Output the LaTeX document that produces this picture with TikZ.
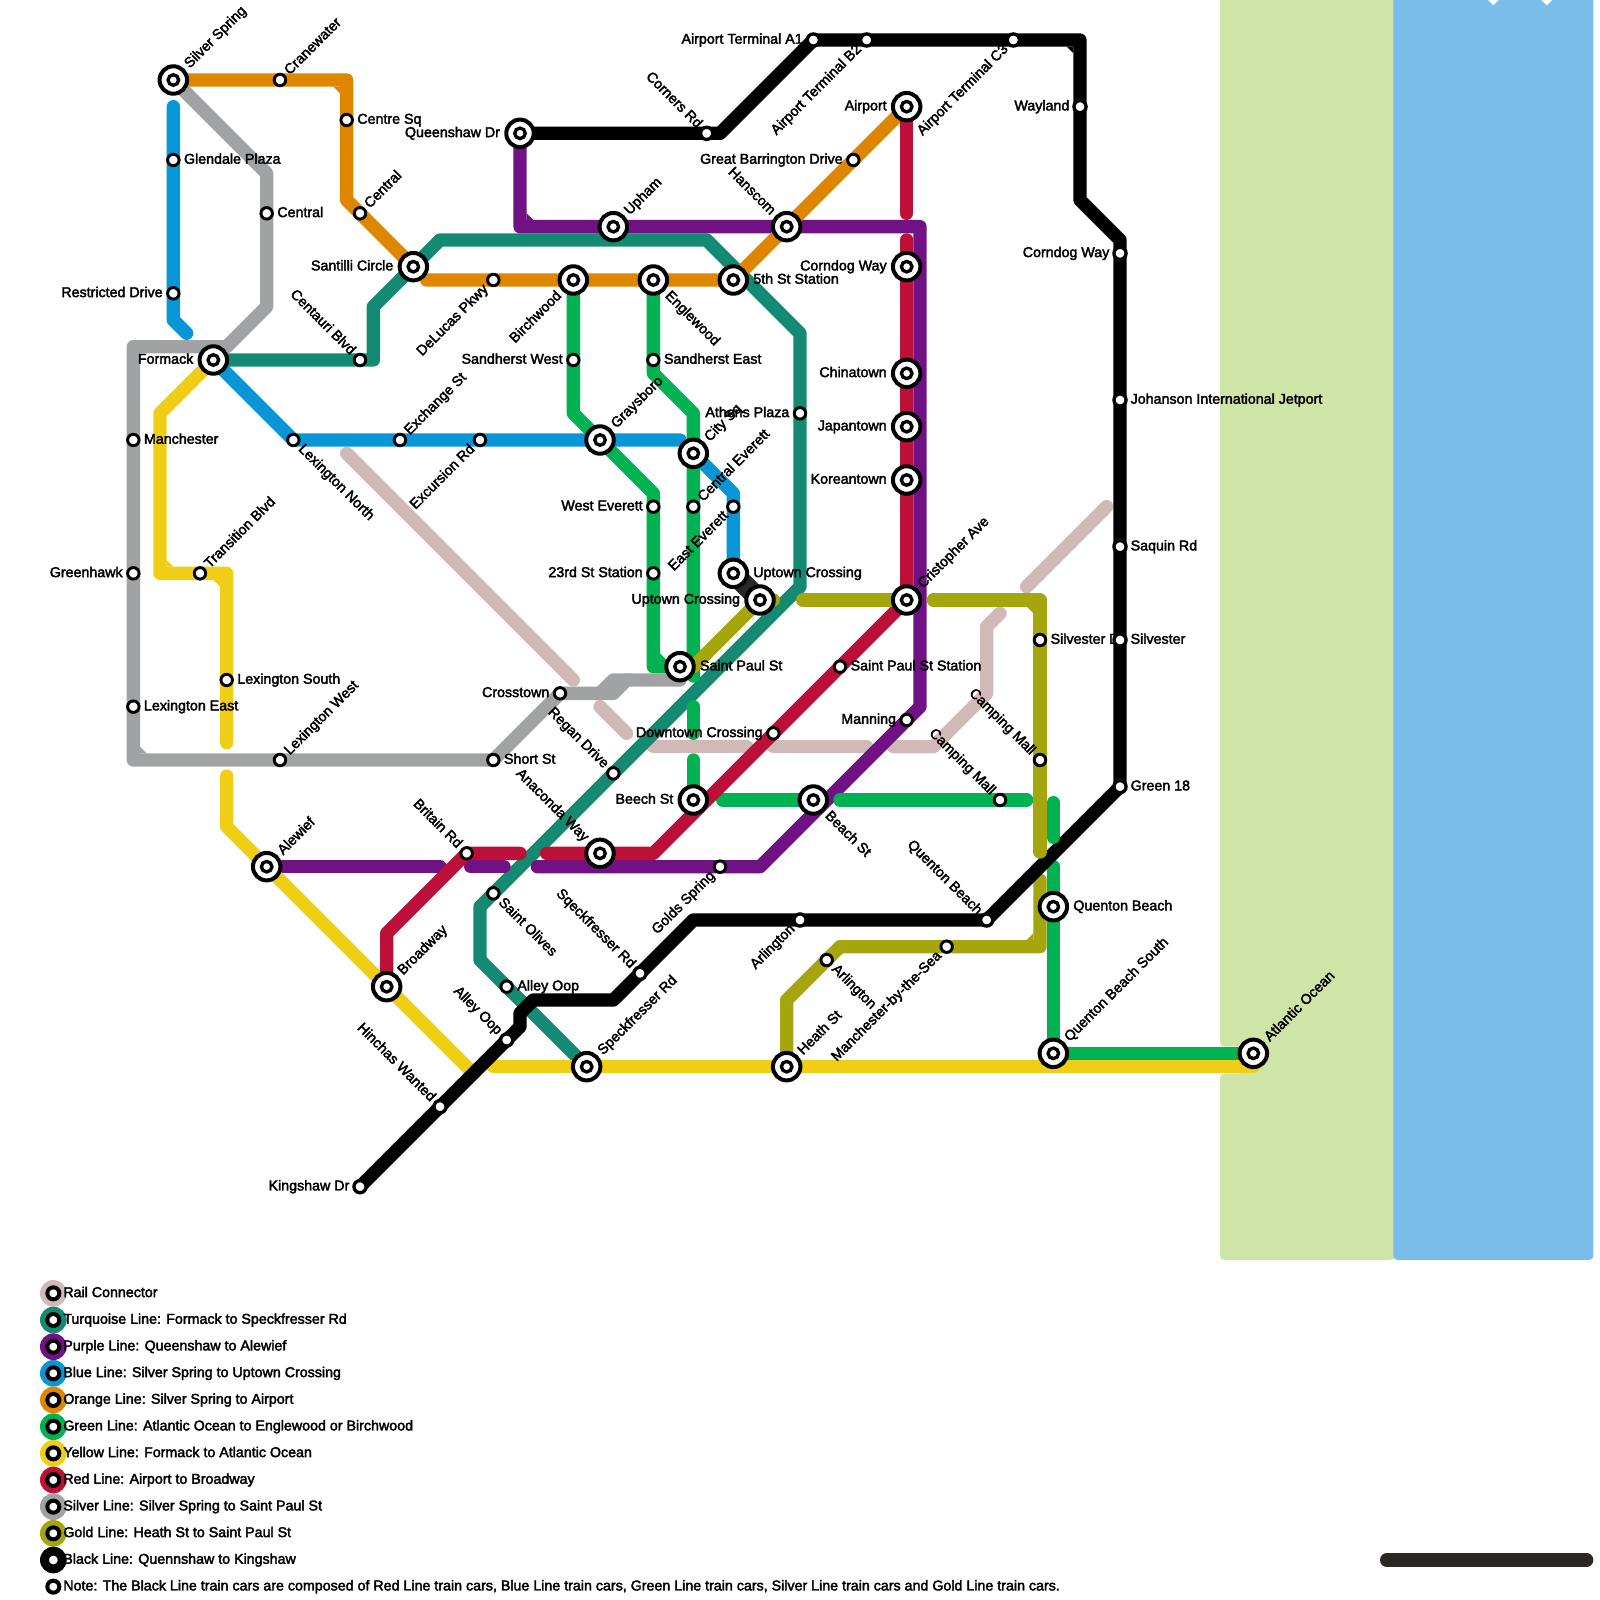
\documentclass[tikz,border=0pt]{standalone}
\usepackage{fontspec}
\setmainfont{Liberation Sans}[FakeBold=2.5]
\definecolor{cOrange}{HTML}{DF8600}
\definecolor{cTurq}{HTML}{158A73}
\definecolor{cPurple}{HTML}{701283}
\definecolor{cBlue}{HTML}{0896D7}
\definecolor{cGreen}{HTML}{00B251}
\definecolor{cYellow}{HTML}{F0CE15}
\definecolor{cRed}{HTML}{BD1038}
\definecolor{cSilver}{HTML}{A1A2A3}
\definecolor{cGold}{HTML}{A5A50D}
\definecolor{cRail}{HTML}{D2B9B9}
\definecolor{cLand}{HTML}{CFE4A7}
\definecolor{cWater}{HTML}{79BDE9}
\definecolor{cDark}{HTML}{2A2725}
\tikzset{
 every node/.style={font=\fontsize{7.6pt}{8.5pt}\selectfont},
 tline/.style={line width=.25cm,line cap=round,line join=round},
 lbl/.style={inner sep=0pt,outer sep=0pt,text height=4pt,text depth=0pt,text=black},
 nR/.style={xshift=.2cm,anchor=west},
 nL/.style={xshift=-.2cm,anchor=east},
 nUR/.style={xshift=.135cm,yshift=.135cm,rotate=45,anchor=west},
 nDR/.style={xshift=.135cm,yshift=-.135cm,rotate=-45,anchor=west},
 nUL/.style={xshift=-.135cm,yshift=.135cm,rotate=-45,anchor=east},
 nDL/.style={xshift=-.135cm,yshift=-.135cm,rotate=45,anchor=east},
 bR/.style={nR},bL/.style={nL},bUR/.style={nUR},bDR/.style={nDR},bUL/.style={nUL},bDL/.style={nDL},
 iR/.style={xshift=.375cm,anchor=west},
 iL/.style={xshift=-.375cm,anchor=east},
 iUR/.style={xshift=.26cm,yshift=.26cm,rotate=45,anchor=west},
 iDR/.style={xshift=.26cm,yshift=-.26cm,rotate=-45,anchor=west},
 iUL/.style={xshift=-.26cm,yshift=.26cm,rotate=-45,anchor=east},
 iDL/.style={xshift=-.26cm,yshift=-.26cm,rotate=45,anchor=east},
 dotn/.style={circle,draw=black,fill=white,inner sep=0pt,outer sep=0pt,minimum size=.215cm,line width=.055cm},
 dotb/.style={circle,draw=black,fill=white,inner sep=0pt,outer sep=0pt,minimum size=.2275cm,line width=.0625cm},
 doti/.style={circle,draw=black,fill=white,inner sep=0pt,outer sep=0pt,minimum size=.515cm,line width=.075cm},
 dotc/.style={circle,draw=black,fill=white,inner sep=0pt,outer sep=0pt,minimum size=.1975cm,line width=.0625cm},
 dotl/.style={circle,draw=black,fill=white,inner sep=0pt,outer sep=0pt,minimum size=.225cm,line width=.075cm},
 legc/.style={circle,inner sep=0pt,outer sep=0pt,minimum size=.5cm},
 legt/.style={inner sep=0pt,outer sep=0pt,anchor=west,text height=4pt,text depth=0pt},
}
\newcommand\StaLabel[4]{\node[lbl,#1#2] (#3-l) at (#3) {#4};}
\newcommand\StaDot[4]{\StaDotAux{#1}{#3}}
\newcommand\StaDotAux[2]{%
 \ifx i#1\node[doti] (#2-s) at (#2) {};\node[dotc] (#2-c) at (#2) {};\else
 \ifx b#1\node[dotb] (#2-s) at (#2) {};\else
 \node[dotn] (#2-s) at (#2) {};\fi\fi}
\newcommand\stationlist{%
\Sta{i}{UR}{SilverSpring}{Silver Spring}
\Sta{n}{UR}{Cranewater}{Cranewater}
\Sta{n}{R}{CentreSq}{Centre Sq}
\Sta{n}{UR}{CentralO}{Central}
\Sta{i}{L}{Santilli}{Santilli Circle}
\Sta{n}{R}{Glendale}{Glendale Plaza}
\Sta{n}{L}{Restricted}{Restricted Drive}
\Sta{n}{R}{CentralS}{Central}
\Sta{i}{L}{Formack}{Formack}
\Sta{n}{R}{Manchester}{Manchester}
\Sta{n}{L}{Greenhawk}{Greenhawk}
\Sta{n}{R}{LexEast}{Lexington East}
\Sta{n}{UR}{Transition}{Transition Blvd}
\Sta{n}{R}{LexSouth}{Lexington South}
\Sta{n}{UR}{LexWest}{Lexington West}
\Sta{n}{R}{ShortSt}{Short St}
\Sta{n}{L}{Crosstown}{Crosstown}
\Sta{n}{DR}{LexNorth}{Lexington North}
\Sta{n}{UR}{Exchange}{Exchange St}
\Sta{n}{DL}{Excursion}{Excursion Rd}
\Sta{i}{UR}{Graysboro}{Graysboro}
\Sta{i}{UR}{CitySq}{City Sq}
\Sta{n}{UL}{Centauri}{Centauri Blvd}
\Sta{n}{DL}{DeLucas}{DeLucas Pkwy}
\Sta{i}{DL}{Birchwood}{Birchwood}
\Sta{i}{DR}{Englewood}{Englewood}
\Sta{i}{R}{FifthSt}{5th St Station}
\Sta{i}{UR}{Upham}{Upham}
\Sta{i}{UL}{Hanscom}{Hanscom}
\Sta{n}{L}{Barrington}{Great Barrington Drive}
\Sta{i}{L}{Airport}{Airport}
\Sta{b}{DL}{TermC}{Airport Terminal C3}
\Sta{b}{DL}{TermB}{Airport Terminal B2}
\Sta{b}{L}{TermA}{Airport Terminal A1}
\Sta{b}{UL}{Corners}{Corners Rd}
\Sta{i}{L}{Queenshaw}{Queenshaw Dr}
\Sta{i}{L}{CorndogR}{Corndog Way}
\Sta{i}{L}{Chinatown}{Chinatown}
\Sta{i}{L}{Japantown}{Japantown}
\Sta{i}{L}{Koreantown}{Koreantown}
\Sta{i}{UR}{Cristopher}{Cristopher Ave}
\Sta{n}{L}{SandW}{Sandherst West}
\Sta{n}{R}{SandE}{Sandherst East}
\Sta{n}{L}{WestEv}{West Everett}
\Sta{n}{L}{TwentyThird}{23rd St Station}
\Sta{n}{UR}{CentralEv}{Central Everett}
\Sta{n}{DL}{EastEv}{East Everett}
\Sta{n}{L}{Athens}{Athens Plaza}
\Sta{i}{R}{UptownB}{Uptown Crossing}
\Sta{i}{L}{UptownG}{Uptown Crossing}
\Sta{i}{R}{SaintPaul}{Saint Paul St}
\Sta{n}{R}{SaintPaulSt}{Saint Paul St Station}
\Sta{n}{L}{Manning}{Manning}
\Sta{n}{L}{Downtown}{Downtown Crossing}
\Sta{n}{UL}{Regan}{Regan Drive}
\Sta{i}{L}{Beech}{Beech St}
\Sta{i}{DR}{Beach}{Beach St}
\Sta{i}{UL}{Anaconda}{Anaconda Way}
\Sta{n}{DL}{Golds}{Golds Spring}
\Sta{n}{UL}{Britain}{Britain Rd}
\Sta{i}{UR}{Alewief}{Alewief}
\Sta{n}{DR}{SaintOlives}{Saint Olives}
\Sta{i}{UR}{Broadway}{Broadway}
\Sta{n}{R}{AlleyT}{Alley Oop}
\Sta{b}{UL}{AlleyB}{Alley Oop}
\Sta{i}{UR}{Speckfresser}{Speckfresser Rd}
\Sta{b}{UL}{Sqeck}{Sqeckfresser Rd}
\Sta{b}{UL}{Hinchas}{Hinchas Wanted}
\Sta{b}{L}{Kingshaw}{Kingshaw Dr}
\Sta{i}{UR}{Heath}{Heath St}
\Sta{n}{DR}{ArlG}{Arlington}
\Sta{b}{DL}{ArlB}{Arlington}
\Sta{n}{DL}{ManSea}{Manchester-by-the-Sea}
\Sta{b}{UL}{QuentonB}{Quenton Beach}
\Sta{i}{R}{QuentonG}{Quenton Beach}
\Sta{i}{UR}{QuentonS}{Quenton Beach South}
\Sta{i}{UR}{Atlantic}{Atlantic Ocean}
\Sta{n}{UL}{CampA}{Camping Mall}
\Sta{n}{UL}{CampB}{Camping Mall}
\Sta{n}{R}{SilvD}{Silvester Dr}
\Sta{b}{R}{Silv}{Silvester}
\Sta{b}{R}{Green18}{Green 18}
\Sta{b}{R}{Saquin}{Saquin Rd}
\Sta{b}{R}{Johanson}{Johanson International Jetport}
\Sta{b}{L}{CorndogB}{Corndog Way}
\Sta{b}{L}{Wayland}{Wayland}
}
\begin{document}
\begin{tikzpicture}[x=.25cm,y=-.25cm]
\useasboundingbox (0,0) rectangle (120,120);
\clip (0,0) rectangle (120,120);
% station positions
\coordinate (SilverSpring) at (13,6);\coordinate (Cranewater) at (21,6);\coordinate (CentreSq) at (26,9);
\coordinate (CentralO) at (27,16);\coordinate (Santilli) at (31,20);\coordinate (Glendale) at (13,12);
\coordinate (Restricted) at (13,22);\coordinate (CentralS) at (20,16);\coordinate (Formack) at (16,27);
\coordinate (Manchester) at (10,33);\coordinate (Greenhawk) at (10,43);\coordinate (LexEast) at (10,53);
\coordinate (Transition) at (15,43);\coordinate (LexSouth) at (17,51);\coordinate (LexWest) at (21,57);
\coordinate (ShortSt) at (37,57);\coordinate (Crosstown) at (42,52);\coordinate (LexNorth) at (22,33);
\coordinate (Exchange) at (30,33);\coordinate (Excursion) at (36,33);\coordinate (Graysboro) at (45,33);
\coordinate (CitySq) at (52,34);\coordinate (Centauri) at (27,27);\coordinate (DeLucas) at (37,21);
\coordinate (Birchwood) at (43,21);\coordinate (Englewood) at (49,21);\coordinate (FifthSt) at (55,21);
\coordinate (Upham) at (46,17);\coordinate (Hanscom) at (59,17);\coordinate (Barrington) at (64,12);
\coordinate (Airport) at (68,8);\coordinate (TermC) at (76,3);\coordinate (TermB) at (65,3);
\coordinate (TermA) at (61,3);\coordinate (Corners) at (53,10);\coordinate (Queenshaw) at (39,10);
\coordinate (CorndogR) at (68,20);\coordinate (Chinatown) at (68,28);\coordinate (Japantown) at (68,32);
\coordinate (Koreantown) at (68,36);\coordinate (Cristopher) at (68,45);\coordinate (SandW) at (43,27);
\coordinate (SandE) at (49,27);\coordinate (WestEv) at (49,38);\coordinate (TwentyThird) at (49,43);
\coordinate (CentralEv) at (52,38);\coordinate (EastEv) at (55,38);\coordinate (Athens) at (60,31);
\coordinate (UptownB) at (55,43);\coordinate (UptownG) at (57,45);\coordinate (SaintPaul) at (51,50);
\coordinate (SaintPaulSt) at (63,50);\coordinate (Manning) at (68,54);\coordinate (Downtown) at (58,55);
\coordinate (Regan) at (46,58);\coordinate (Beech) at (52,60);\coordinate (Beach) at (61,60);
\coordinate (Anaconda) at (45,64);\coordinate (Golds) at (54,65);\coordinate (Britain) at (35,64);
\coordinate (Alewief) at (20,65);\coordinate (SaintOlives) at (37,67);\coordinate (Broadway) at (29,74);
\coordinate (AlleyT) at (38,74);\coordinate (AlleyB) at (38,78);\coordinate (Speckfresser) at (44,80);
\coordinate (Sqeck) at (48,73);\coordinate (Hinchas) at (33,83);\coordinate (Kingshaw) at (27,89);
\coordinate (Heath) at (59,80);\coordinate (ArlG) at (62,72);\coordinate (ArlB) at (60,69);
\coordinate (ManSea) at (71,71);\coordinate (QuentonB) at (74,69);\coordinate (QuentonG) at (79,68);
\coordinate (QuentonS) at (79,79);\coordinate (Atlantic) at (94,79);\coordinate (CampA) at (78,57);
\coordinate (CampB) at (75,60);\coordinate (SilvD) at (78,48);\coordinate (Silv) at (84,48);
\coordinate (Green18) at (84,59);\coordinate (Saquin) at (84,41);\coordinate (Johanson) at (84,30);
\coordinate (CorndogB) at (84,19);\coordinate (Wayland) at (81,8);
% land and water
\fill[cLand,rounded corners=.08cm] (91.5,-2) rectangle (104.6,78.5);
\fill[cLand,rounded corners=.08cm] (91.5,80.5) rectangle (104.6,94.5);
\fill[cLand] (93,78) rectangle (104.6,81);
\fill[cWater,rounded corners=.08cm] (104.5,-2) rectangle (119.5,94.5);
\fill[white] (112,-.4) -- (112.4,0) -- (112,.4) -- (111.6,0) -- cycle;
\fill[white] (116,-.4) -- (116.4,0) -- (116,.4) -- (115.6,0) -- cycle;
\draw[tline,cDark] (104,117) -- (119,117);
% rail connector
\draw[tline,cRail] (26,34) -- (43,51);
\draw[tline,cRail] (45,53) -- (47,55);
\draw[tline,cRail] (49,56) -- (56,56);
\draw[tline,cRail] (58,56) -- (65,56);
\draw[tline,cRail] (67,56) -- (70,56) -- (74,52) -- (74,47) -- (75,46);
\draw[tline,cRail] (77,44) -- (83,38);
% turquoise
\draw[tline,cTurq] (Formack) -- (Centauri) -- (28,27) -- (28,23) -- (Santilli) -- (33,18) -- (53,18) -- (60,25) -- (Athens) -- (60,44) -- (Regan) -- (SaintOlives) -- (36,68) -- (36,72) -- (AlleyT) -- (Speckfresser);
% purple
\draw[tline,cPurple] (Queenshaw) -- (39,17) -- (Upham) -- (Hanscom) -- (69,17) -- (69,53) -- (Manning) -- (57,65) -- (Golds) -- (40.3,65);
\fill[cPurple] (39.5,16) -- (40,16.5) -- (39.5,16.5) -- cycle;
\draw[tline,cPurple] (35.3,65) -- (37.8,65);
\draw[tline,cPurple] (Alewief) -- (33,65);
% blue
\draw[tline,cBlue] (13,8) -- (Glendale) -- (Restricted) -- (13,24) -- (14,25);
\draw[tline,cBlue] (Formack) -- (LexNorth) -- (Exchange) -- (Excursion) -- (Graysboro) -- (51,33);
\draw[tline,cBlue] (CitySq) -- (55,37) -- (EastEv) -- (UptownB);
% connector between the two Uptown Crossing stations
\draw[cDark,line width=.38cm] (UptownB) -- (UptownG);
% orange
\draw[tline,cOrange] (SilverSpring) -- (Cranewater) -- (26,6) -- (CentreSq) -- (26,15) -- (CentralO) -- (Santilli);
\fill[cOrange] (25,6.5) -- (25.5,7) -- (25.5,6.5) -- cycle;
\draw[tline,cOrange] (32,21) -- (DeLucas) -- (Birchwood) -- (Englewood) -- (FifthSt) -- (Hanscom) -- (Barrington) -- (Airport);
% green
\draw[tline,cGreen] (Atlantic) -- (QuentonS) -- (QuentonG) -- (79,65);
\draw[tline,cGreen] (63,60) -- (CampB) -- (77,60);
\draw[tline,cGreen] (54.2,60) -- (Beach);
\draw[tline,cGreen] (52,57) -- (Beech);
\draw[tline,cGreen] (52,53) -- (52,55);
\draw[tline,cGreen] (Englewood) -- (SandE) -- (49,28) -- (52,31) -- (CitySq) -- (CentralEv) -- (52,50.7);
\draw[tline,cGreen] (Birchwood) -- (SandW) -- (43,31) -- (Graysboro) -- (49,37) -- (WestEv) -- (TwentyThird) -- (49,50) -- (SaintPaul);
\fill[cGreen] (49.5,49) -- (50,49.5) -- (49.5,49.5) -- cycle;
% yellow
\draw[tline,cYellow] (Formack) -- (12,31) -- (12,43) -- (Transition) -- (17,43) -- (LexSouth) -- (17,55.7);
\fill[cYellow] (12.5,42) -- (13,42.5) -- (12.5,42.5) -- cycle;
\fill[cYellow] (16,43.5) -- (16.5,44) -- (16.5,43.5) -- cycle;
\draw[tline,cYellow] (17,58.2) -- (17,62) -- (Alewief) -- (Broadway) -- (35.5,80.5);
\draw[tline,cYellow] (37,80) -- (94,80);
% red
\draw[tline,cRed] (Airport) -- (68,16);
\draw[tline,cRed] (68,18) -- (CorndogR) -- (Chinatown) -- (Japantown) -- (Koreantown) -- (Cristopher) -- (SaintPaulSt) -- (Downtown) -- (49,64) -- (Anaconda) -- (41,64);
\draw[tline,cRed] (39,64) -- (Britain) -- (29,70) -- (Broadway);
% silver
\draw[tline,cSilver] (SilverSpring) -- (20,13) -- (CentralS) -- (20,23) -- (17,26) -- (10,26) -- (Manchester) -- (Greenhawk) -- (LexEast) -- (10,57) -- (LexWest) -- (ShortSt) -- (Crosstown) -- (46,52) -- (47,51) -- (51,51);
\draw[tline,cSilver] (45,52) -- (46,51) -- (47,51);
\fill[cSilver] (10.5,56) -- (11,56.5) -- (10.5,56.5) -- cycle;
% gold
\draw[tline,cGold] (Heath) -- (59,75) -- (ArlG) -- (63,71) -- (ManSea) -- (78,71) -- (78,66);
\fill[cGold] (77.5,70) -- (77,70.5) -- (77.5,70.5) -- cycle;
\draw[tline,cGold] (60.2,45) -- (Cristopher);
\draw[tline,cGold] (52,50) -- (UptownG) -- (58,45);
% black
\draw[tline,black] (Queenshaw) -- (Corners) -- (54,10) -- (TermA) -- (TermB) -- (TermC) -- (81,3) -- (Wayland) -- (81,15) -- (84,18) -- (CorndogB) -- (Johanson) -- (Saquin) -- (Silv) -- (Green18) -- (QuentonB) -- (ArlB) -- (52,69) -- (Sqeck) -- (46,75) -- (40,75) -- (39,76) -- (39,77) -- (AlleyB) -- (Hinchas) -- (Kingshaw);
\fill[black] (80,3.5) -- (80.5,4) -- (80.5,3.5) -- cycle;
% stubs that end beside the black line, with their round ends showing
\draw[tline,cGreen] (79,60.2) -- (79,62.8);
\draw[tline,cGold] (78,63.9) -- (CampA) -- (SilvD) -- (78,45) -- (70,45);
\fill[cGold] (77,45.5) -- (77.5,46) -- (77.5,45.5) -- cycle;
% labels, then station markers
\let\Sta\StaLabel
\stationlist
\let\Sta\StaDot
\stationlist
% legend
\foreach \row/\col/\txt [count=\i] in {
 97/cRail/Rail Connector,
 99/cTurq/Turquoise Line: Formack to Speckfresser Rd,
 101/cPurple/Purple Line: Queenshaw to Alewief,
 103/cBlue/Blue Line: Silver Spring to Uptown Crossing,
 105/cOrange/Orange Line: Silver Spring to Airport,
 107/cGreen/Green Line: Atlantic Ocean to Englewood or Birchwood,
 109/cYellow/Yellow Line: Formack to Atlantic Ocean,
 111/cRed/Red Line: Airport to Broadway,
 113/cSilver/Silver Line: Silver Spring to Saint Paul St,
 115/cGold/Gold Line: Heath St to Saint Paul St}{
 \node[legc,fill=\col] (leg\i) at (4,\row) {};
 \node[dotl] (legd\i) at (4,\row) {};
 \node[legt] (legt\i) at (4.75,\row) {\txt};
}
\node[legc,fill=black] (legBlack) at (4,117) {};
\node[dotb] (legdBlack) at (4,117) {};
\node[legt] (legtBlack) at (4.75,117) {Black Line: Quennshaw to Kingshaw};
\node[dotl] (legdNote) at (4,119) {};
\node[legt] (legtNote) at (4.75,119) {Note: The Black Line train cars are composed of Red Line train cars, Blue Line train cars, Green Line train cars, Silver Line train cars and Gold Line train cars.};
\end{tikzpicture}
\end{document}
